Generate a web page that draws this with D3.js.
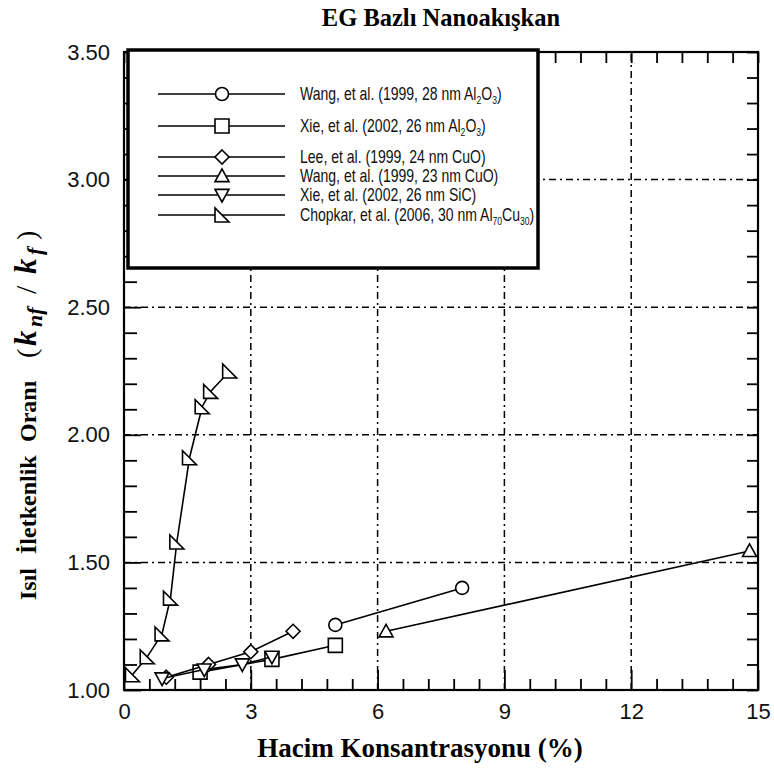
<!DOCTYPE html>
<html>
<head>
<meta charset="utf-8">
<script src="https://cdn.jsdelivr.net/npm/d3@7"></script>
<style>
body { margin: 0; background: #fff; }
</style>
</head>
<body>
<svg id="chart" width="774" height="771"></svg>
<script>
// x: volume concentration (%), y: k_nf / k_f
const wangAl2O3X = [5.0, 8.0];
const wangAl2O3Y = [1.255, 1.40];
const xieAl2O3X = [1.8, 3.5, 5.0];
const xieAl2O3Y = [1.07, 1.12, 1.175];
const leeCuOX = [1.0, 2.0, 3.0, 4.0];
const leeCuOY = [1.05, 1.10, 1.15, 1.23];
const wangCuOX = [6.2, 14.8];
const wangCuOY = [1.23, 1.545];
const xieSiCX = [0.9, 1.9, 2.8, 3.5];
const xieSiCY = [1.045, 1.08, 1.10, 1.13];
const chopkarX = [0.2, 0.55, 0.9, 1.1, 1.25, 1.55, 1.85, 2.05, 2.5];
const chopkarY = [1.06, 1.13, 1.22, 1.36, 1.58, 1.91, 2.11, 2.17, 2.25];

const xMajor = [0, 3, 6, 9, 12, 15];
const yMajor = [1.0, 1.5, 2.0, 2.5, 3.0, 3.5];

// legend labels, pieces are [text, sub?]
const legendLabels = [
    [['Wang, et al. (1999, 28 nm Al'], ['2', 1], ['O'], ['3', 1], [')']],
    [['Xie, et al. (2002, 26 nm Al'], ['2', 1], ['O'], ['3', 1], [')']],
    [['Lee, et al. (1999, 24 nm CuO)']],
    [['Wang, et al. (1999, 23 nm CuO)']],
    [['Xie, et al. (2002, 26 nm SiC)']],
    [['Chopkar, et al. (2006, 30 nm Al'], ['70', 1], ['Cu'], ['30', 1], [')']]
];

const series = [
    {x: wangAl2O3X, y: wangAl2O3Y, mark: 'circle'},
    {x: xieAl2O3X, y: xieAl2O3Y, mark: 'square'},
    {x: leeCuOX, y: leeCuOY, mark: 'diamond'},
    {x: wangCuOX, y: wangCuOY, mark: 'up'},
    {x: xieSiCX, y: xieSiCY, mark: 'down'},
    {x: chopkarX, y: chopkarY, mark: 'corner'}
];

const svg = d3.select('#chart');
const x = d3.scaleLinear().domain([0, 15]).range([124, 758]);
const y = d3.scaleLinear().domain([1, 3.5]).range([690, 52]);

function markerPath(type) {
    const s = 7;
    switch (type) {
        case 'circle': return d3.symbol(d3.symbolCircle, Math.PI * 6.5 * 6.5)();
        case 'square': return `M${-s},${-s}h${2 * s}v${2 * s}h${-2 * s}Z`;
        case 'diamond': return `M0,${-s}L${s},0L0,${s}L${-s},0Z`;
        case 'up': return `M0,${-s}L${s},${s * 0.8}L${-s},${s * 0.8}Z`;
        case 'down': return `M0,${s}L${s},${-s * 0.8}L${-s},${-s * 0.8}Z`;
        case 'corner': return `M${-s},${-s}L${-s},${s}L${s},${s}Z`;
    }
}

// grid
const grid = svg.append('g')
    .attr('stroke', '#000')
    .attr('stroke-width', 1.5)
    .attr('stroke-dasharray', '7,4,2,4');
grid.selectAll('line.gx')
    .data(xMajor.slice(1, -1))
    .enter().append('line')
    .attr('x1', d => x(d)).attr('x2', d => x(d))
    .attr('y1', y(1)).attr('y2', y(3.5));
grid.selectAll('line.gy')
    .data(yMajor.slice(1, -1))
    .enter().append('line')
    .attr('x1', x(0)).attr('x2', x(15))
    .attr('y1', d => y(d)).attr('y2', d => y(d));

// axes
const xMinor = d3.range(0, 15.001, 0.6).filter(v => xMajor.indexOf(Math.round(v * 10) / 10) < 0);
const yMinor = d3.range(1, 3.501, 0.1).filter(v => yMajor.indexOf(Math.round(v * 10) / 10) < 0);

function styleAxis(g) {
    g.select('.domain').remove();
    g.selectAll('line').attr('stroke', '#000').attr('stroke-width', 1.8);
    g.selectAll('text')
        .attr('fill', '#111')
        .style('font-family', '"Liberation Sans", Arial, sans-serif')
        .style('font-size', '22px');
}

svg.append('g').attr('transform', `translate(0,${y(1)})`)
    .call(d3.axisBottom(x).tickValues(xMajor).tickSize(-20).tickPadding(13).tickFormat(d3.format('d')))
    .call(styleAxis);
svg.append('g').attr('transform', `translate(0,${y(1)})`)
    .call(d3.axisBottom(x).tickValues(xMinor).tickSize(-11).tickFormat(''))
    .call(styleAxis);
svg.append('g').attr('transform', `translate(${x(0)},0)`)
    .call(d3.axisLeft(y).tickValues(yMajor).tickSize(-17).tickPadding(14).tickFormat(d3.format('.2f')))
    .call(styleAxis);
svg.append('g').attr('transform', `translate(${x(0)},0)`)
    .call(d3.axisLeft(y).tickValues(yMinor).tickSize(-13).tickFormat(''))
    .call(styleAxis);
svg.append('g').attr('transform', `translate(${x(15)},0)`)
    .call(d3.axisRight(y).tickValues(yMinor.concat(yMajor)).tickSize(-11).tickFormat(''))
    .call(styleAxis);
svg.append('g').attr('transform', `translate(0,${y(3.5)})`)
    .call(d3.axisTop(x).tickValues(xMinor.concat(xMajor)).tickSize(-11).tickFormat(''))
    .call(styleAxis);

svg.append('rect')
    .attr('x', x(0)).attr('y', y(3.5))
    .attr('width', x(15) - x(0)).attr('height', y(1) - y(3.5))
    .attr('fill', 'none').attr('stroke', '#000').attr('stroke-width', 2.2);

// series
const line = d3.line().x(d => x(d[0])).y(d => y(d[1]));
series.forEach(s => {
    const pts = s.x.map((v, i) => [v, s.y[i]]);
    svg.append('path')
        .attr('d', line(pts))
        .attr('fill', 'none').attr('stroke', '#000').attr('stroke-width', 1.6);
    svg.selectAll(null)
        .data(pts)
        .enter().append('path')
        .attr('d', markerPath(s.mark))
        .attr('transform', d => `translate(${x(d[0])},${y(d[1])})`)
        .attr('fill', '#fff').attr('stroke', '#000').attr('stroke-width', 1.6);
});

// legend
const legend = svg.append('g');
legend.append('rect')
    .attr('x', 128).attr('y', 50).attr('width', 410).attr('height', 218)
    .attr('fill', '#fff').attr('stroke', '#000').attr('stroke-width', 3.5);
const rowY = [94, 126, 157, 176, 195, 215];
series.forEach((s, i) => {
    legend.append('line')
        .attr('x1', 158).attr('x2', 285).attr('y1', rowY[i]).attr('y2', rowY[i])
        .attr('stroke', '#000').attr('stroke-width', 1.6);
    legend.append('path')
        .attr('d', markerPath(s.mark))
        .attr('transform', `translate(222,${rowY[i]})`)
        .attr('fill', '#fff').attr('stroke', '#000').attr('stroke-width', 1.6);
    // narrow-looking text: squeeze a regular sans horizontally
    const t = legend.append('text')
        .attr('transform', `translate(300,${rowY[i] + 6}) scale(0.78,1)`)
        .attr('fill', '#111')
        .style('font-family', '"Liberation Sans", Arial, sans-serif')
        .style('font-size', '18px');
    let shifted = false;
    legendLabels[i].forEach(p => {
        const sub = p[1] === 1;
        const ts = t.append('tspan').text(p[0]);
        if (sub && !shifted) { ts.attr('dy', 4).style('font-size', '11px'); shifted = true; }
        else if (sub) ts.style('font-size', '11px');
        else if (shifted) { ts.attr('dy', -4); shifted = false; }
    });
});

// titles
const serif = '"Liberation Serif", "Times New Roman", serif';
svg.append('text')
    .attr('x', 441).attr('y', 26)
    .attr('text-anchor', 'middle')
    .style('font-family', serif).style('font-weight', 'bold').style('font-size', '24.5px')
    .text('EG Bazlı Nanoakışkan');

svg.append('text')
    .attr('x', 420).attr('y', 757)
    .attr('text-anchor', 'middle')
    .style('font-family', serif).style('font-weight', 'bold').style('font-size', '27px')
    .text('Hacim Konsantrasyonu (%)');

// y label, laid out along the rotated baseline starting near the bottom
const yl = svg.append('text')
    .attr('transform', 'translate(36,600) rotate(-90)')
    .style('font-family', serif).style('font-weight', 'bold').style('font-size', '24px');
yl.append('tspan').attr('x', 0).text('Isıl');
yl.append('tspan').attr('x', 46).text('İletkenlik');
yl.append('tspan').attr('x', 158).text('Oranı');
yl.append('tspan').attr('x', 242).text('(').style('font-size', '28px').style('font-weight', 'normal');
yl.append('tspan').attr('x', 254).text('k').style('font-style', 'italic').style('font-size', '31px');
yl.append('tspan').attr('x', 273).attr('dy', 6).text('nf').style('font-style', 'italic').style('font-size', '22px');
yl.append('tspan').attr('x', 306).attr('dy', -6).text('/').style('font-size', '30px').style('font-weight', 'normal');
yl.append('tspan').attr('x', 326).text('k').style('font-style', 'italic').style('font-size', '31px');
yl.append('tspan').attr('x', 345).attr('dy', 6).text('f').style('font-style', 'italic').style('font-size', '22px');
yl.append('tspan').attr('x', 360).attr('dy', -6).text(')').style('font-size', '28px').style('font-weight', 'normal');
</script>
</body>
</html>
